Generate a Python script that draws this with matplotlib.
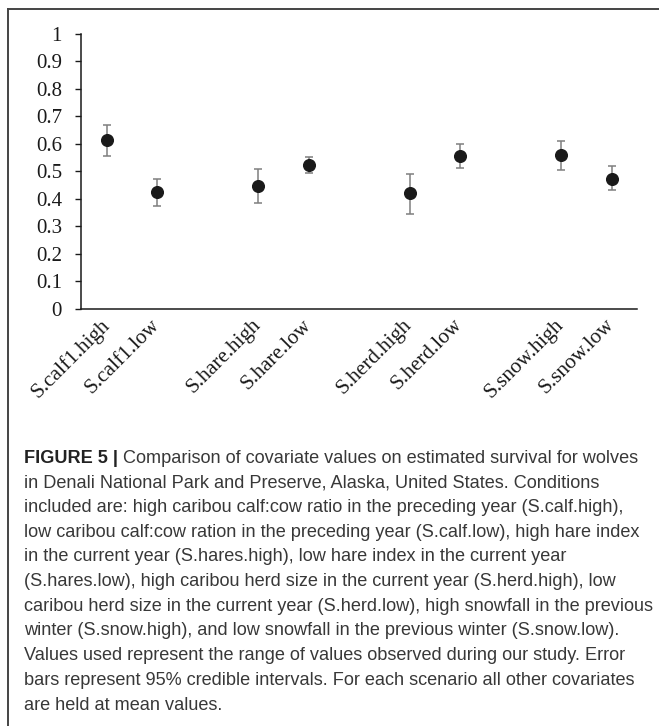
import numpy as np
import matplotlib
matplotlib.use("Agg")
import matplotlib.pyplot as plt
import matplotlib.transforms as mtransforms
from matplotlib.lines import Line2D

# --- data ---
scenarios = ["S.calf1.high", "S.calf1.low",
             "S.hare.high", "S.hare.low",
             "S.herd.high", "S.herd.low",
             "S.snow.high", "S.snow.low"]
survival = [0.612, 0.423, 0.447, 0.523, 0.419, 0.555, 0.558, 0.473]
ci_low = [0.556, 0.374, 0.385, 0.494, 0.345, 0.512, 0.505, 0.430]
ci_high = [0.667, 0.472, 0.507, 0.552, 0.490, 0.597, 0.610, 0.518]
y_ticks = [0, 0.1, 0.2, 0.3, 0.4, 0.5, 0.6, 0.7, 0.8, 0.9, 1]
y_tick_labels = ["0", "0.1", "0.2", "0.3", "0.4", "0.5", "0.6", "0.7", "0.8", "0.9", "1"]

caption_head = "FIGURE 5 |"
caption_lines = [
    "Comparison of covariate values on estimated survival for wolves",
    "in Denali National Park and Preserve, Alaska, United States. Conditions",
    "included are: high caribou calf:cow ratio in the preceding year (S.calf.high),",
    "low caribou calf:cow ration in the preceding year (S.calf.low), high hare index",
    "in the current year (S.hares.high), low hare index in the current year",
    "(S.hares.low), high caribou herd size in the current year (S.herd.high), low",
    "caribou herd size in the current year (S.herd.low), high snowfall in the previous",
    "winter (S.snow.high), and low snowfall in the previous winter (S.snow.low).",
    "Values used represent the range of values observed during our study. Error",
    "bars represent 95% credible intervals. For each scenario all other covariates",
    "are held at mean values.",
]

W, H = 659, 726
fig = plt.figure(figsize=(W / 100, H / 100), dpi=100)

# pairs of scenarios, one empty slot between pairs (Excel category axis)
x = np.array([(i // 2) * 3 + (i % 2) for i in range(len(scenarios))])
mean = np.array(survival)
err = np.vstack([mean - np.array(ci_low), np.array(ci_high) - mean])

ax = fig.add_axes([81.4 / W, 1 - 308.5 / H, (637 - 81.4) / W, (308.5 - 33.7) / H])
ax.errorbar(x, mean, yerr=err, fmt="o", color="#1a1a1a", markersize=8.4,
            ecolor="#7f7f7f", elinewidth=1.1, capsize=2.7, capthick=1.1, zorder=3)

ax.set_xlim(-0.5, 10.5)
ax.set_ylim(0, 1)
ax.set_yticks(y_ticks)
ax.set_yticklabels(y_tick_labels, fontfamily="Liberation Serif", fontsize=15,
                   color="#1a1a1a")
ax.tick_params(axis="y", direction="out", length=4, width=1, color="#1a1a1a", pad=10)
ax.set_xticks(x)
ax.set_xticklabels(scenarios, rotation=45, ha="right", va="top",
                   rotation_mode="anchor", fontfamily="Liberation Serif",
                   fontsize=15.3, color="#1a1a1a")
ax.tick_params(axis="x", length=0, pad=5)
shift = mtransforms.ScaledTranslation(-7 / 100, 0, fig.dpi_scale_trans)
for lab in ax.get_xticklabels():
    lab.set_transform(lab.get_transform() + shift)
for s in ["top", "right"]:
    ax.spines[s].set_visible(False)
for s in ["left", "bottom"]:
    ax.spines[s].set_color("#1a1a1a")
    ax.spines[s].set_linewidth(1.1)

# frame lines around the figure panel (top and left only)
fig.add_artist(Line2D([7.5 / W, 1], [1 - 8.5 / H, 1 - 8.5 / H], color="#444444",
                      linewidth=1.4, transform=fig.transFigure))
fig.add_artist(Line2D([7.5 / W, 7.5 / W], [0, 1 - 8.5 / H], color="#444444",
                      linewidth=1.4, transform=fig.transFigure))

# caption
cap_font = "Liberation Sans"
cap_size = 13.05
cap_color = "#383838"
x0 = 24 / W
y_first = 458
spacing = 24.7
head = fig.text(x0, 1 - y_first / H, caption_head, fontfamily=cap_font,
                fontsize=cap_size, fontweight="bold", color="#222222", va="center")
fig.canvas.draw()
bb = head.get_window_extent()
head_w = (bb.x1 - bb.x0) / W
for i, line in enumerate(caption_lines):
    xx = x0 + head_w + 5 / W if i == 0 else x0
    fig.text(xx, 1 - (y_first + i * spacing) / H, line, fontfamily=cap_font,
             fontsize=cap_size, color=cap_color, va="center")

fig.savefig("out.png", dpi=100)
